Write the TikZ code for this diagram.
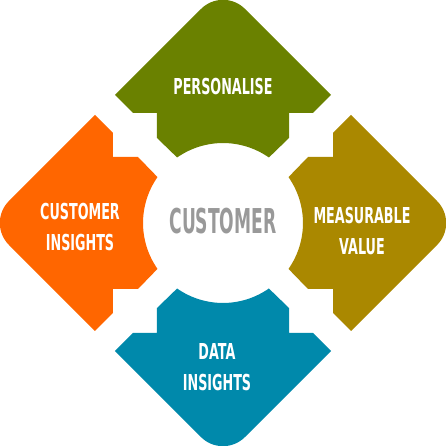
\documentclass[tikz,border=0pt]{standalone}
\usepackage{fontspec}
\usepackage{xcolor}
\usepackage{tikz}
\newfontfamily\labelfont{DejaVu Sans}[FakeStretch=0.58]
\newfontfamily\hubfont{DejaVu Sans}[FakeStretch=0.5]
\definecolor{petalgreen}{HTML}{6A8100}
\definecolor{petalorange}{HTML}{FF6600}
\definecolor{petalgold}{HTML}{AA8800}
\definecolor{petalteal}{HTML}{0089AB}
\definecolor{hubgray}{HTML}{999999}
\tikzstyle{petaltext} = [text=white, align=center, font=\labelfont\bfseries\fontsize{12.5}{17.6}\selectfont]
\tikzstyle{hubtext} = [text=hubgray, font=\hubfont\bfseries\fontsize{19.5}{22}\selectfont]
\newcommand{\petal}{(-108,128) -- (-21.9,214.1) arc[start angle=135,end angle=45,radius=31] -- (108,128) -- (90,110) -- (66,110) -- (66,85) -- (45.9,65.5) arc[start angle=55,end angle=125,radius=80] -- (-66,85) -- (-66,110) -- (-90,110) -- cycle}

\begin{document}
\begin{tikzpicture}[x=0.02cm,y=0.02cm]
	\useasboundingbox (-223,-223) rectangle (223,223);
	\foreach \ang/\col in {0/petalgreen, 90/petalorange, 180/petalteal, 270/petalgold}
		\fill[\col, rotate=\ang] \petal;

	\node (personalise) [petaltext] at (0,136) {PERSONALISE};
	\node (insights) [petaltext] at (-143,-4) {CUSTOMER\\INSIGHTS};
	\node (value) [petaltext] at (139,-8) {MEASURABLE\\VALUE};
	\node (data) [petaltext] at (-6,-144) {DATA\\INSIGHTS};
	\node (customer) [hubtext] at (0,2) {CUSTOMER};
\end{tikzpicture}
\end{document}
